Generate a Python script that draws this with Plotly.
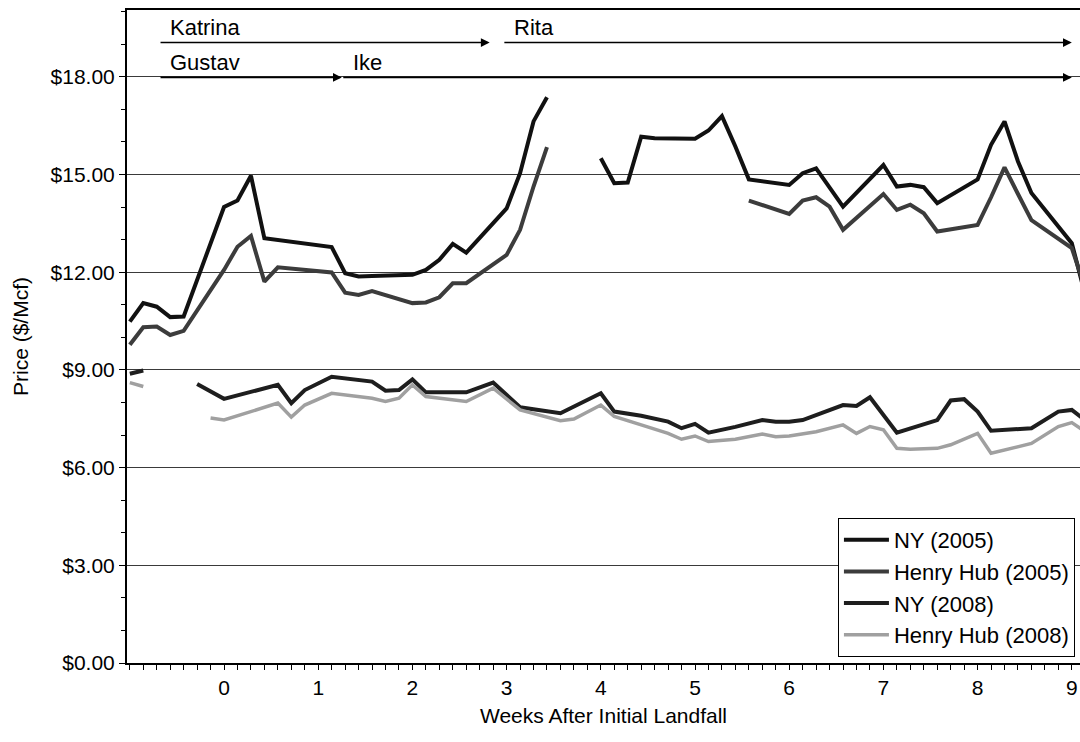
import plotly.graph_objects as go

# ---- Data (calendar days after initial landfall; plotted as weeks = day/7) ----
ny2005_days = [-7, -6, -5, -4, -3, 0, 1, 2, 3, 4, 8, 9, 10, 11, 14, 15, 16, 17, 18, 21, 22, 23, 24,
               25,
               28, 29, 30, 31, 32, 35, 36, 37, 38, 39, 42, 43, 44, 45, 46, 49, 50, 51, 52, 53,
               56, 57, 58, 59, 60, 63, 64]
ny2005_price = [10.48, 11.05, 10.94, 10.62, 10.64, 14.00, 14.20, 14.96, 13.04, 12.98, 12.77, 11.97,
                11.87, 11.88, 11.92, 12.07, 12.38, 12.87, 12.60, 13.96, 15.04, 16.63, 17.37,
                None,
                15.50, 14.73, 14.75, 16.16, 16.11, 16.10, 16.35, 16.79, 15.86, 14.85, 14.68, 15.04,
                15.19, 14.60, 14.01, 15.29, 14.63, 14.68, 14.61, 14.12, 14.85, 15.91, 16.63, 15.40,
                14.43, 12.89, 11.30]

hh2005_days = [-7, -6, -5, -4, -3, 0, 1, 2, 3, 4, 8, 9, 10, 11, 14, 15, 16, 17, 18, 21, 22, 23, 24,
               25,
               39, 42, 43, 44, 45, 46, 49, 50, 51, 52, 53, 56, 57, 58, 59, 60, 63, 64]
hh2005_price = [9.77, 10.31, 10.33, 10.07, 10.20, 12.07, 12.78, 13.11, 11.71, 12.15, 11.99, 11.37,
                11.30, 11.42, 11.05, 11.07, 11.23, 11.66, 11.66, 12.53, 13.30, 14.63, 15.84,
                None,
                14.20, 13.79, 14.20, 14.30, 14.01, 13.30, 14.40, 13.91, 14.07, 13.81, 13.25, 13.45,
                14.30, 15.22, 14.40, 13.60, 12.74, 11.50]

ny2008_days = [-7, -6,
               -4,
               -2, 0, 4, 5, 6, 8, 11, 12, 13, 14, 15, 18, 20, 22, 25, 26, 28, 29, 31, 33, 34, 35,
               36, 38, 40, 41, 42, 43, 44, 46, 47, 48, 50, 51, 53, 54, 55, 56, 57, 60, 61, 62,
               63, 64]
ny2008_price = [8.88, 8.98,
                None,
                8.57, 8.11, 8.54, 7.98, 8.38, 8.79, 8.64, 8.36, 8.38, 8.71, 8.31, 8.31, 8.61, 7.85,
                7.67, 7.87, 8.28, 7.72, 7.59, 7.41, 7.21, 7.34, 7.07, 7.25, 7.46, 7.41, 7.41, 7.46,
                7.62, 7.92, 7.89, 8.16, 7.07, 7.21, 7.46, 8.06, 8.10, 7.72, 7.13, 7.21, 7.46, 7.72,
                7.77, 7.45]

hh2008_days = [-7, -6,
               -4,
               -1, 0, 4, 5, 6, 8, 11, 12, 13, 14, 15, 18, 20, 22, 25, 26, 28, 29, 31, 33, 34, 35,
               36, 38, 40, 41, 42, 44, 46, 47, 48, 49, 50, 51, 53, 54, 56, 57, 60, 61, 62, 63, 64]
hh2008_price = [8.61, 8.49,
                None,
                7.52, 7.46, 7.98, 7.55, 7.92, 8.28, 8.13, 8.03, 8.13, 8.54, 8.18, 8.03, 8.44, 7.77,
                7.44, 7.49, 7.92, 7.57, 7.31, 7.05, 6.87, 6.97, 6.80, 6.87, 7.03, 6.95, 6.97, 7.10,
                7.31, 7.05, 7.26, 7.16, 6.59, 6.56, 6.59, 6.70, 7.05, 6.44, 6.74, 7.00, 7.26, 7.38,
                7.10]

series_names = ["NY (2005)", "Henry Hub (2005)", "NY (2008)", "Henry Hub (2008)"]

week_ticks = [0, 1, 2, 3, 4, 5, 6, 7, 8, 9]

# Hurricane periods (weeks after initial landfall)
event_names = ["Katrina", "Rita", "Gustav", "Ike"]
event_start_wk = [-0.69, 2.96, -0.69, 1.25]
event_end_wk = [2.82, 9.0, 1.25, 9.0]
event_level = [19.05, 19.05, 17.98, 17.98]

FONT = "Liberation Sans, Arial, sans-serif"
AX_SIZE = 21
LEG_SIZE = 22

fig = go.Figure()

styles = [
    dict(color="#111111", width=4),
    dict(color="#3c3c3c", width=4),
    dict(color="#1e1e1e", width=4),
    dict(color="#a0a0a0", width=3.5),
]
data = [(ny2005_days, ny2005_price), (hh2005_days, hh2005_price),
        (ny2008_days, ny2008_price), (hh2008_days, hh2008_price)]

for i, (name, (d, p), st) in enumerate(zip(series_names, data, styles)):
    fig.add_trace(go.Scatter(
        x=[v / 7 for v in d], y=p, mode="lines", name=name,
        line=st, connectgaps=False,
    ))

# Event arrows and labels
for name, s, e, lv in zip(event_names, event_start_wk, event_end_wk, event_level):
    fig.add_annotation(x=e, y=lv, ax=s, ay=lv, xref="x", yref="y", axref="x", ayref="y",
                       text="", showarrow=True, arrowhead=2, arrowsize=1.1, arrowwidth=1.6,
                       arrowcolor="black")
    fig.add_annotation(x=s + 0.1, y=lv + 0.47, xref="x", yref="y", text=name, showarrow=False,
                       xanchor="left", yanchor="middle",
                       font=dict(family=FONT, size=LEG_SIZE, color="black"))

fig.update_layout(
    width=1080, height=742,
    margin=dict(l=127, r=0, t=10, b=79),
    paper_bgcolor="white", plot_bgcolor="white",
    font=dict(family=FONT, size=AX_SIZE, color="black"),
    showlegend=True,
    legend=dict(x=0.746, y=0.222, xanchor="left", yanchor="top",
                bgcolor="white", bordercolor="black", borderwidth=1,
                font=dict(family=FONT, size=LEG_SIZE, color="black"),
                itemwidth=45, traceorder="normal"),
    xaxis=dict(
        range=[-1.03, 9.087], automargin=False,
        tickvals=week_ticks, ticktext=[str(v) for v in week_ticks],
        ticks="outside", ticklen=5, tickwidth=1, tickcolor="black",
        showline=True, linecolor="black", linewidth=2, mirror=True,
        showgrid=False, zeroline=False,
        tickfont=dict(family=FONT, size=AX_SIZE),
        minor=dict(dtick=1 / 7, tick0=0, ticks="outside", ticklen=5, tickwidth=1,
                   tickcolor="black", showgrid=False),
        title=dict(text="Weeks After Initial Landfall", font=dict(family=FONT, size=AX_SIZE),
                   standoff=10),
    ),
    yaxis=dict(
        range=[0, 20.05], dtick=3, tick0=0, automargin=False,
        tickprefix="$", tickformat=".2f",
        ticks="outside", ticklen=6, tickwidth=1, tickcolor="black",
        showline=True, linecolor="black", linewidth=2,
        showgrid=True, gridcolor="#3a3a3a", gridwidth=1, zeroline=False,
        tickfont=dict(family=FONT, size=AX_SIZE),
        minor=dict(dtick=1, ticks="outside", ticklen=4, tickwidth=1, tickcolor="black",
                   showgrid=False),
        title=dict(text="Price ($/Mcf)", font=dict(family=FONT, size=AX_SIZE), standoff=16),
    ),
)

fig.write_html("out.html", config={"displayModeBar": False},
               post_script="document.body.style.margin='0';document.body.style.overflow='hidden';")
